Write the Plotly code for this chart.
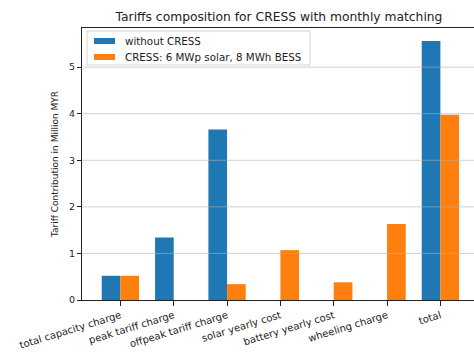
import plotly.graph_objects as go

categories = [
    "total capacity charge",
    "peak tariff charge",
    "offpeak tariff charge",
    "solar yearly cost",
    "battery yearly cost",
    "wheeling charge",
    "total",
]
without_cress = [0.52, 1.34, 3.66, 0.0, 0.0, 0.0, 5.56]
with_cress = [0.52, 0.0, 0.34, 1.07, 0.38, 1.63, 3.98]
series_names = ["without CRESS", "CRESS: 6 MWp solar, 8 MWh BESS"]
y_ticks = [0, 1, 2, 3, 4, 5]

BLUE = "#1f77b4"
ORANGE = "#ff7f0e"
FONT = "DejaVu Sans"
INK = "#222"

W, H = 474, 352
L, R, T, B = 82, 0, 28, 52
PW, PH = W - L - R, H - T - B


def px_x(px):
    """Pixel column -> paper x."""
    return (px - L) / PW


def px_y(py):
    """Pixel row -> paper y."""
    return (H - B - py) / PH


fig = go.Figure()
colors = [BLUE, ORANGE]
for name, vals, col in zip(series_names, [without_cress, with_cress], colors):
    fig.add_trace(go.Bar(x=list(range(len(categories))), y=vals, name=name,
                         marker=dict(color=col, line=dict(width=0))))

# horizontal grid drawn over the bars
for t in y_ticks[1:]:
    fig.add_shape(type="line", xref="paper", x0=0, x1=1, yref="y", y0=t, y1=t,
                  line=dict(color="rgba(176,176,176,0.75)", width=0.8), layer="above")

# legend box with patches and labels
fig.add_shape(type="rect", xref="paper", yref="paper",
              x0=px_x(87), x1=px_x(310), y0=px_y(65), y1=px_y(31),
              line=dict(color="#d4d4d4", width=1), fillcolor="rgba(255,255,255,0.8)",
              layer="above")
for i, (name, col) in enumerate(zip(series_names, colors)):
    cy = 41 + 16 * i
    fig.add_shape(type="rect", xref="paper", yref="paper",
                  x0=px_x(94), x1=px_x(115), y0=px_y(cy + 3), y1=px_y(cy - 3),
                  line=dict(width=0), fillcolor=col, layer="above")
    fig.add_annotation(text=name, xref="paper", yref="paper",
                       x=px_x(123), y=px_y(cy), xanchor="left", yanchor="middle",
                       showarrow=False, font=dict(family=FONT, size=10.3, color=INK))

fig.update_layout(
    width=W, height=H,
    margin=dict(l=L, r=R, t=T, b=B),
    paper_bgcolor="white", plot_bgcolor="white",
    barmode="group", bargap=0.3, bargroupgap=0,
    font=dict(family=FONT, size=10, color=INK),
    title=dict(text="Tariffs composition for CRESS with monthly matching",
               x=279 / W, xanchor="center", y=1 - 17 / H, yanchor="middle",
               font=dict(family=FONT, size=12.3, color=INK)),
    showlegend=False,
)
fig.update_xaxes(
    range=[-0.72, 6.63], automargin=False,
    tickmode="array", tickvals=list(range(len(categories))), ticktext=categories,
    tickangle=-17, ticks="outside", ticklen=5, tickcolor=INK,
    showline=True, linecolor=INK, linewidth=1, mirror=True,
    showgrid=False, zeroline=False,
    tickfont=dict(family=FONT, size=10, color=INK),
)
fig.update_yaxes(
    range=[0, 5.84], automargin=False,
    tickmode="array", tickvals=y_ticks,
    ticks="outside", ticklen=4, tickcolor=INK,
    showline=True, linecolor=INK, linewidth=1,
    showgrid=False, zeroline=False,
    title=dict(text="Tariff Contribution in Million MYR", standoff=8,
               font=dict(family=FONT, size=9, color=INK)),
    tickfont=dict(family=FONT, size=9.5, color=INK),
)

fig.write_html("out.html")
